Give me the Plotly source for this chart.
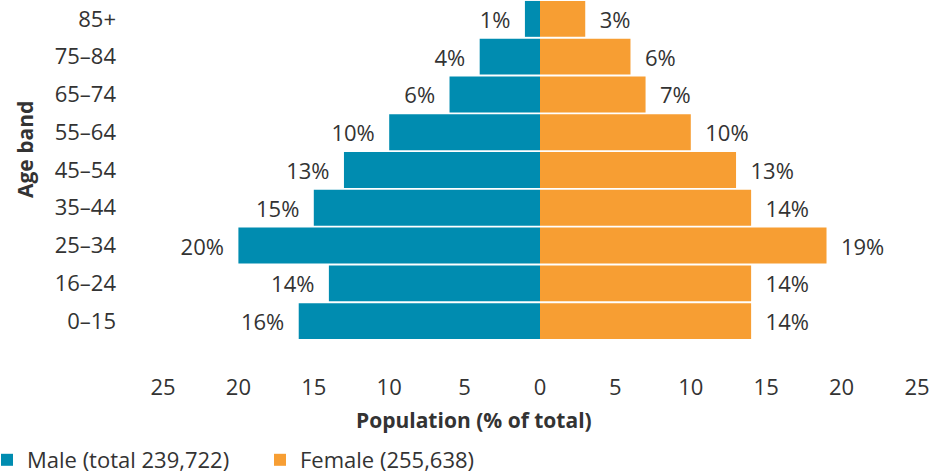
import plotly.graph_objects as go

age_bands = ["0–15", "16–24", "25–34", "35–44", "45–54", "55–64", "65–74", "75–84", "85+"]
male_pct = [16, 14, 20, 15, 13, 10, 6, 4, 1]
female_pct = [14, 14, 19, 14, 13, 10, 7, 6, 3]
x_ticks = [-25, -20, -15, -10, -5, 0, 5, 10, 15, 20, 25]
x_tick_labels = ["25", "20", "15", "10", "5", "0", "5", "10", "15", "20", "25"]
male_name = "Male (total 239,722)"
female_name = "Female (255,638)"

FONT = "Open Sans"
TXT = "#333333"
FS = 22
W, H = 931, 475
L, R, T, B = 163, 14, 0, 135
PW, PH = W - L - R, H - T - B
NB = "\u00a0"

fig = go.Figure()
fig.add_trace(go.Bar(
    y=age_bands, x=[-v for v in male_pct], orientation="h", name=male_name,
    marker=dict(color="#008CB0", line=dict(width=0)),
    text=[f"{v}%{NB*2}" for v in male_pct], textposition="outside",
    textfont=dict(size=FS, color=TXT, family=FONT), cliponaxis=False,
    hoverinfo="skip",
))
fig.add_trace(go.Bar(
    y=age_bands, x=female_pct, orientation="h", name=female_name,
    marker=dict(color="#F79E33", line=dict(width=0)),
    text=[f"{NB*2}{v}%" for v in female_pct], textposition="outside",
    textfont=dict(size=FS, color=TXT, family=FONT), cliponaxis=False,
    hoverinfo="skip",
))

fig.update_layout(
    width=W, height=H,
    barmode="relative", bargap=0.05,
    plot_bgcolor="white", paper_bgcolor="white",
    font=dict(family=FONT, size=FS, color=TXT),
    margin=dict(l=L, r=R, t=T, b=B, pad=0, autoexpand=False),
    showlegend=True,
    legend=dict(orientation="h", xref="paper", yref="paper",
                x=-(L + 13) / PW, xanchor="left", y=(PH - 460) / PH, yanchor="middle",
                font=dict(size=FS, color=TXT, family=FONT),
                itemwidth=30, traceorder="normal", entrywidth=228,
                bgcolor="rgba(0,0,0,0)"),
    xaxis=dict(range=[-25, 25], tickvals=x_ticks, ticktext=x_tick_labels,
               showgrid=False, zeroline=False, showline=False, ticks="",
               automargin=False,
               ticklabelstandoff=32, tickfont=dict(size=FS, color=TXT)),
    yaxis=dict(categoryorder="array", categoryarray=age_bands,
               showgrid=False, zeroline=False, showline=False, ticks="",
               automargin=False,
               ticklabelstandoff=46, tickfont=dict(size=FS, color=TXT)),
    annotations=[
        dict(text="<b>Age band</b>", textangle=-90, xref="paper", yref="paper",
             x=-(L - 25) / PW, y=1 - 150 / PH, xanchor="center", yanchor="middle",
             showarrow=False, font=dict(size=21, color=TXT, family=FONT)),
        dict(text="<b>Population (% of total)</b>", xref="paper", yref="paper",
             x=(474 - L) / PW, y=1 - 420 / PH, xanchor="center", yanchor="middle",
             showarrow=False, font=dict(size=21, color=TXT, family=FONT)),
    ],
)

fig.write_html("out.html", config={"displayModeBar": False},
               post_script="document.body.style.margin='0';")
